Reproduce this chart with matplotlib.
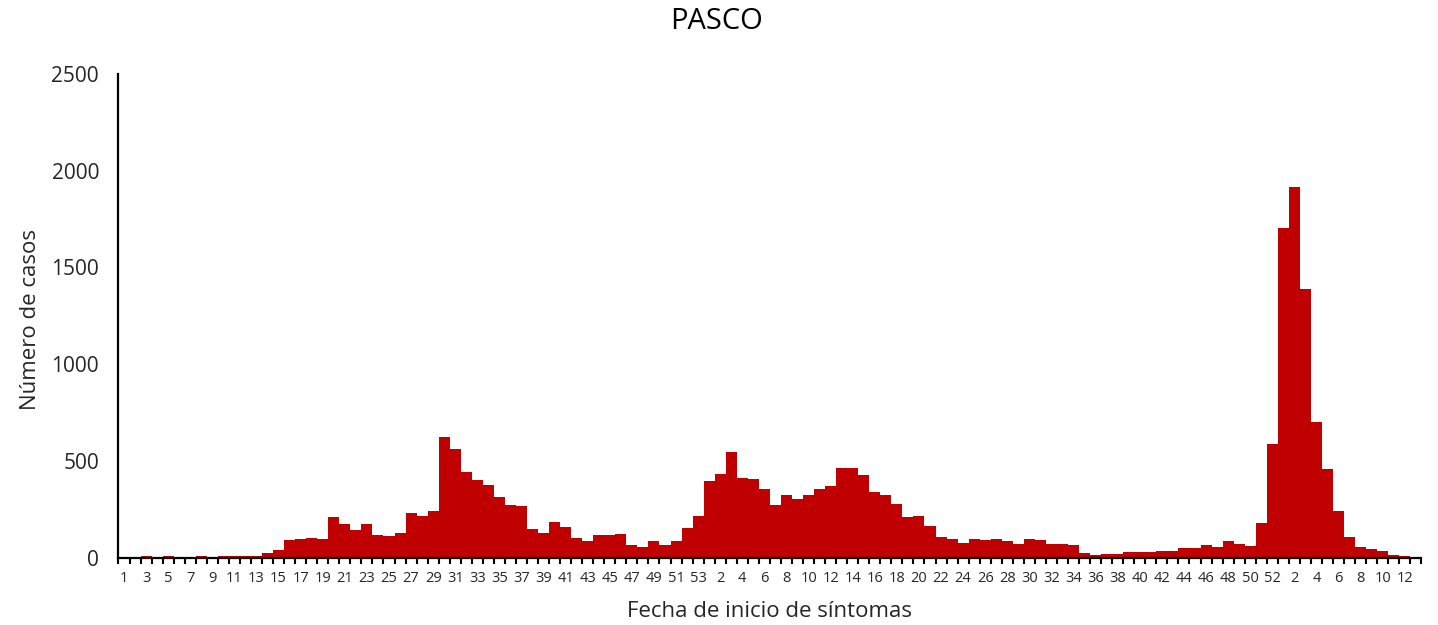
import matplotlib
matplotlib.use("Agg")
import matplotlib.pyplot as plt
import numpy as np

plt.rcParams["font.family"] = ["Open Sans", "DejaVu Sans"]

# epidemiological weeks (2020: 1-53, 2021: 1-52, 2022: 1-13)
weeks_2020 = list(range(1, 54))
weeks_2021 = list(range(1, 53))
weeks_2022 = list(range(1, 14))

cases_2020 = [0, 0, 7, 0, 7, 0, 0, 7, 0, 6,
              6, 6, 6, 21, 41, 93, 98, 103, 98, 210,
              172, 141, 172, 115, 110, 129, 231, 217, 238, 625,
              560, 444, 401, 375, 312, 274, 267, 148, 127, 186,
              158, 103, 83, 115, 115, 124, 64, 52, 84, 64,
              84, 153, 217]
cases_2021 = [394, 434, 548, 413, 408, 356, 274, 324, 300, 324,
              356, 370, 463, 463, 425, 339, 324, 279, 210, 217,
              165, 108, 98, 77, 98, 90, 98, 83, 71, 98,
              90, 71, 71, 64, 25, 12, 19, 19, 26, 26,
              26, 33, 33, 50, 50, 65, 52, 84, 72, 59,
              179, 585]
cases_2022 = [1703, 1915, 1386, 699, 458, 243, 107, 52, 46, 33,
              14, 7, 0]

title = "PASCO"
x_label = "Fecha de inicio de síntomas"
y_label = "Número de casos"
bar_color = "#C00000"
text_color = "#262626"

weeks = weeks_2020 + weeks_2021 + weeks_2022
cases = cases_2020 + cases_2021 + cases_2022
x = np.arange(len(cases))

fig = plt.figure(figsize=(14.38, 6.25), dpi=100)
ax = fig.add_axes([0.0824, 0.108, 0.9060, 0.7736])

ax.bar(x, cases, width=1.0, color=bar_color, linewidth=0)

ax.set_xlim(-0.5, len(cases) - 0.5)
ax.set_ylim(0, 2500)
ax.set_yticks(range(0, 2501, 500))

# labels on every other week, tick marks between categories
ax.set_xticks(x[::2])
ax.set_xticklabels([str(w) for w in weeks[::2]], fontsize=10.5, color=text_color)
ax.set_xticks(np.arange(-0.5, len(cases), 1.0), minor=True)
ax.tick_params(axis="x", which="major", length=0, pad=10)
ax.tick_params(axis="x", which="minor", length=4.5, width=1.5, direction="out")
ax.tick_params(axis="y", length=0, pad=14, labelsize=15, labelcolor=text_color)

for side in ("top", "right"):
    ax.spines[side].set_visible(False)
for side in ("left", "bottom"):
    ax.spines[side].set_linewidth(1.6)
    ax.spines[side].set_color("black")

fig.text(0.498, 0.965, title, ha="center", va="center", fontsize=21, color="black")
fig.text(0.535, 0.022, x_label, ha="center", va="center", fontsize=16, color=text_color)
fig.text(0.021, 0.488, y_label, ha="center", va="center", rotation=90,
         fontsize=16, color=text_color)

fig.savefig("out.png", dpi=100)
